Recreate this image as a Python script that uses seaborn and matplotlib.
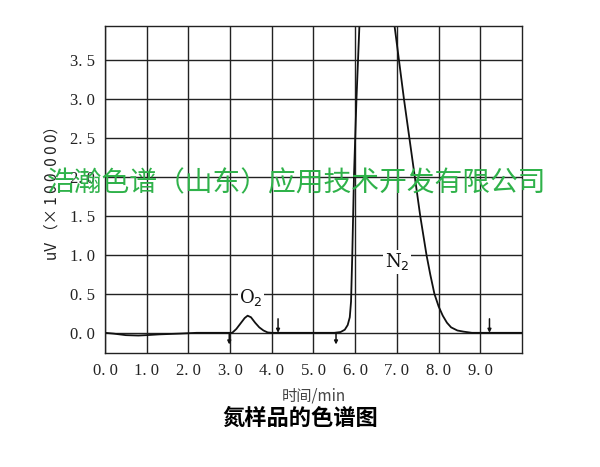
import matplotlib
matplotlib.use("Agg")
import matplotlib.pyplot as plt
import seaborn as sns
import pandas as pd

# chromatogram trace (time in min, signal in uV x 100 000)
time_min = [0.0, 0.2, 0.5, 0.8, 1.0, 1.3, 1.8, 2.2, 2.9, 3.05, 3.15, 3.25, 3.35, 3.42,
            3.5, 3.6, 3.7, 3.8, 3.9, 4.0, 5.5, 5.65, 5.75, 5.82, 5.87, 5.9, 5.93, 5.97,
            6.03, 6.12, 6.5, 6.93, 7.17, 7.3, 7.43, 7.56, 7.71, 7.8, 7.9, 8.0, 8.1, 8.2,
            8.3, 8.45, 8.6, 8.8, 10.0]
signal = [0.0, -0.01, -0.03, -0.035, -0.03, -0.02, -0.01, 0.0, 0.0, 0.0, 0.05, 0.12, 0.19, 0.22,
          0.2, 0.13, 0.07, 0.03, 0.005, 0.0, 0.0, 0.01, 0.04, 0.1, 0.2, 0.4, 1.0, 2.0,
          3.0, 4.2, 4.6, 4.0, 3.0, 2.5, 2.0, 1.5, 1.0, 0.75, 0.5, 0.34, 0.22, 0.13,
          0.07, 0.03, 0.015, 0.0, 0.0]

# integration event marks: time and side (+1 above baseline, -1 below)
event_times = [2.98, 4.15, 5.54, 9.22]
event_sides = [-1, 1, -1, 1]

peak_names = ["O$_2$", "N$_2$"]
peak_label_x = [3.22, 6.71]
peak_label_y = [0.46, 0.91]

x_ticks = [0, 1, 2, 3, 4, 5, 6, 7, 8, 9]
x_labels = ["0. 0", "1. 0", "2. 0", "3. 0", "4. 0", "5. 0", "6. 0", "7. 0", "8. 0", "9. 0"]
y_ticks = [0.0, 0.5, 1.0, 1.5, 2.0, 2.5, 3.0, 3.5]
y_labels = ["0. 0", "0. 5", "1. 0", "1. 5", "2. 0", "2. 5", "3. 0", "3. 5"]

sns.set_style("white")
plt.rcParams['font.family'] = ['Noto Sans CJK SC', 'DejaVu Sans']

df = pd.DataFrame({"time": time_min, "signal": signal})

fig = plt.figure(figsize=(6, 4.67), dpi=100)
ax = fig.add_axes([0.175, 0.244, 0.695, 0.7])

sns.lineplot(data=df, x="time", y="signal", sort=False, estimator=None,
             color="#111111", lw=1.3, ax=ax)

for t, side in zip(event_times, event_sides):
    if side > 0:
        ax.annotate("", xy=(t, 0.0), xytext=(t, 0.18),
                    arrowprops=dict(arrowstyle="-|>", color="#111111", lw=1.1,
                                    mutation_scale=5, shrinkA=0, shrinkB=0))
    else:
        ax.annotate("", xy=(t, 0.0), xytext=(t, -0.15),
                    arrowprops=dict(arrowstyle="<|-", color="#111111", lw=1.1,
                                    mutation_scale=5, shrinkA=0, shrinkB=0))

for name, lx, ly in zip(peak_names, peak_label_x, peak_label_y):
    ax.text(lx, ly, name, fontsize=13, family="DejaVu Serif", va="center", ha="left",
            color="#111111", bbox=dict(facecolor="white", edgecolor="none", pad=1))

ax.set_xlim(0, 10)
ax.set_ylim(-0.26, 3.94)
ax.set_xticks(x_ticks)
ax.set_xticklabels(x_labels, family="Liberation Serif", fontsize=12)
ax.set_yticks(y_ticks)
ax.set_yticklabels(y_labels, family="Liberation Serif", fontsize=12)
ax.tick_params(length=0, pad=7, colors="#222222")
ax.grid(True, color="#222222", lw=1.0)
ax.set_axisbelow(True)
for s in ax.spines.values():
    s.set_color("#222222")
    s.set_linewidth(1.0)

ax.set_xlabel("时间/min", fontsize=11, color="#444444", labelpad=6)
ax.set_ylabel("uV （× 1 0 0  0 0 0）", fontsize=11, color="#222222", labelpad=7)

fig.text(0.5, 1 - 418 / 467, "氮样品的色谱图", fontsize=16, fontweight="bold",
         ha="center", va="center", color="black")
fig.text(0.495, 1 - 183 / 467, "浩瀚色谱（山东）应用技术开发有限公司", fontsize=20,
         ha="center", va="center", color="#2fb24a")

fig.savefig("out.png", dpi=100)
